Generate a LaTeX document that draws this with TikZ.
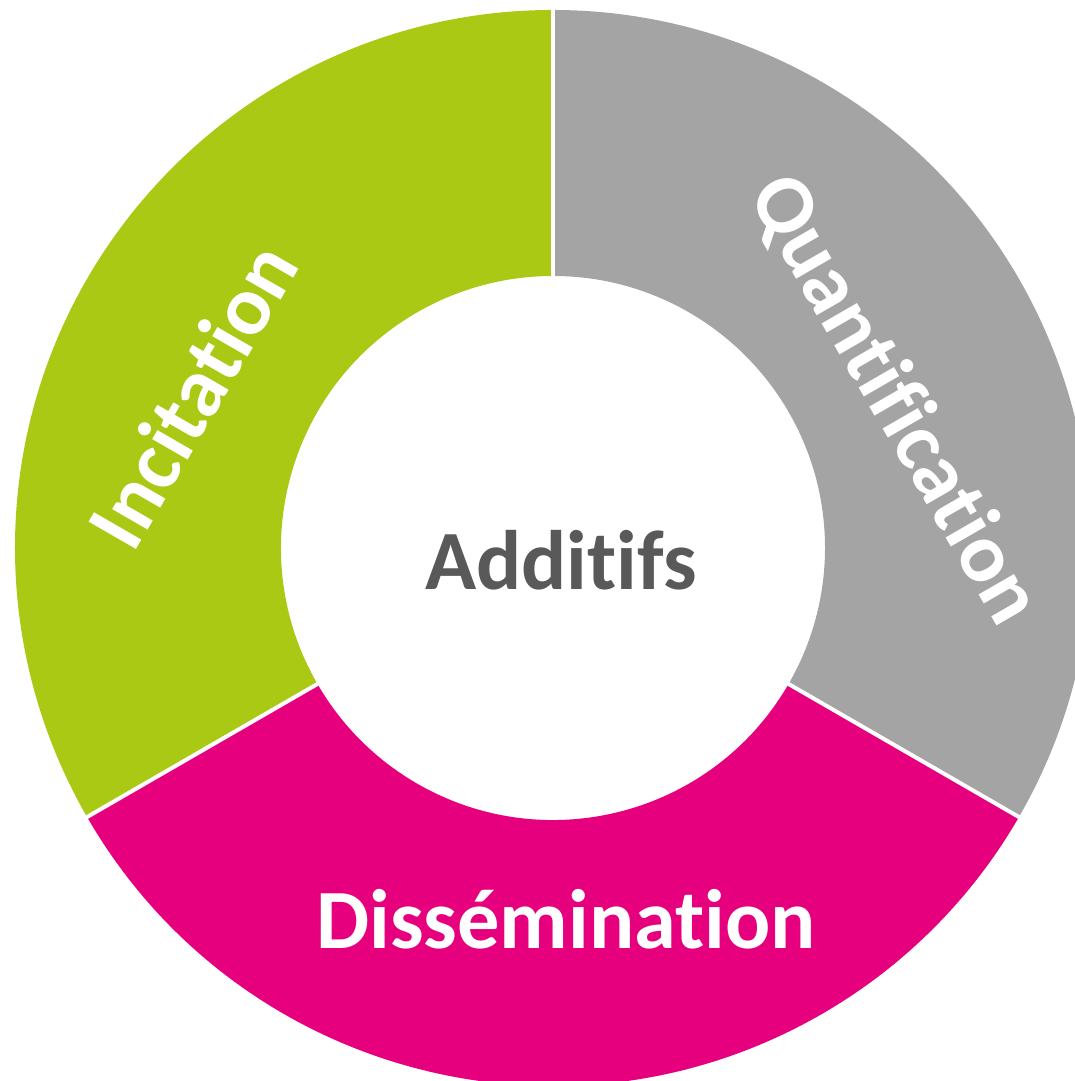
\documentclass[tikz,border=0pt]{standalone}
\usepackage{fontspec}
\setmainfont[Ligatures={NoCommon}]{Carlito}
\definecolor{incgreen}{RGB}{170,201,20}
\definecolor{quagray}{RGB}{164,164,164}
\definecolor{dismagenta}{RGB}{230,0,126}
\definecolor{centergray}{RGB}{89,89,89}
\tikzstyle{ringlabel}=[font=\bfseries\fontsize{24}{28}\selectfont,text=white,inner sep=0pt]
\tikzstyle{gap}=[white,line width=0.04cm]
\newcommand{\innerr}{2.72}
\newcommand{\outerr}{5.38}
\newcommand{\ringpart}[3]{
	\fill[#1] (#2:\outerr) arc (#2:#3:\outerr) -- (#3:\innerr) arc (#3:#2:\innerr) -- cycle;
}

\begin{document}
\begin{tikzpicture}
\useasboundingbox (-5.53,-5.33) rectangle (5.21,5.48);
% three thirds of the ring
\ringpart{incgreen}{90}{210}
\ringpart{dismagenta}{210}{330}
\ringpart{quagray}{-30}{90}
\foreach \a in {90,210,330}{
	\draw[gap] (\a:\innerr-0.05) -- (\a:\outerr+0.05);
}

\node[ringlabel,rotate=60] (incitation) at (-3.61,1.53) {Incitation};
\node[ringlabel,rotate=-60] (quantification) at (3.41,1.48) {Quantification};
\node[ringlabel] (dissemination) at (0.13,-3.71) {Dissémination};
\node[ringlabel,text=centergray] (additifs) at (0.08,-0.12) {Additifs};
\end{tikzpicture}
\end{document}
